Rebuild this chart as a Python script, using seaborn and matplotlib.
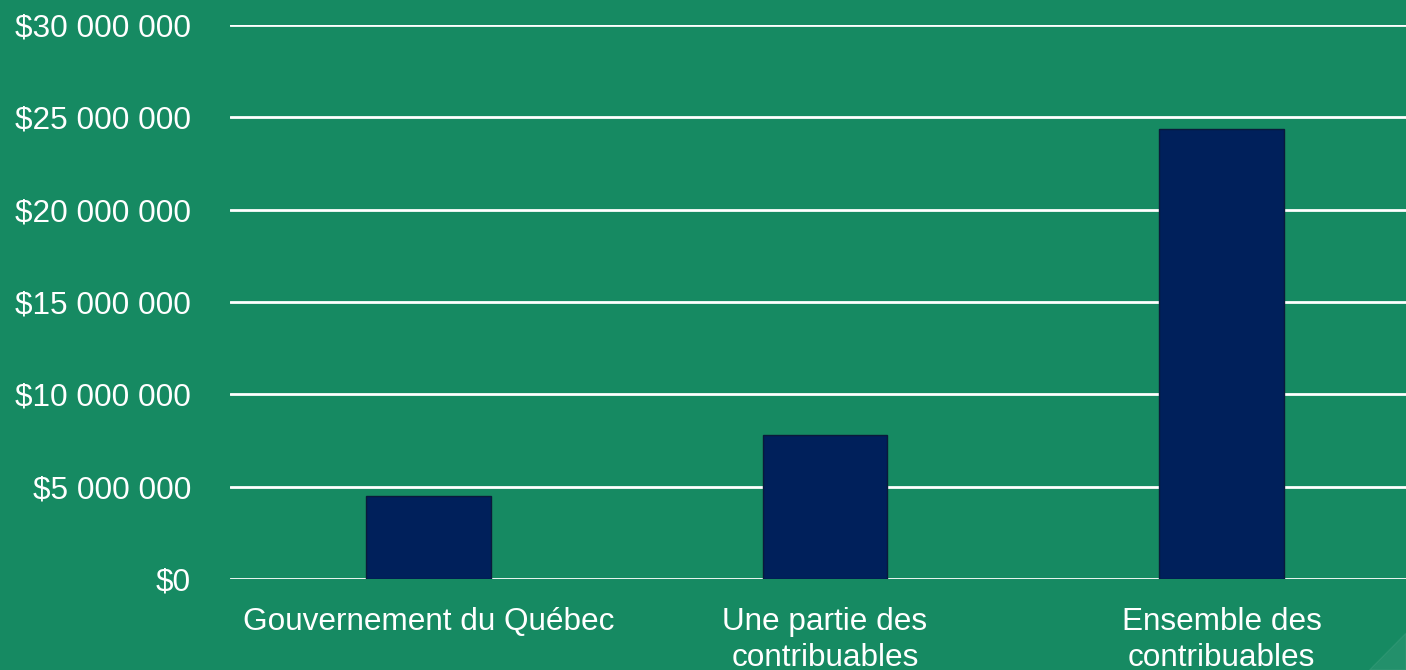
import matplotlib
matplotlib.use('Agg')
import matplotlib.pyplot as plt
import seaborn as sns
import pandas as pd
from matplotlib.ticker import FuncFormatter

categories = ["Gouvernement du Québec", "Une partie des\ncontribuables", "Ensemble des\ncontribuables"]
values = [4500000, 7800000, 24350000]
yticks = [0, 5000000, 10000000, 15000000, 20000000, 25000000, 30000000]

bg = "#168a62"
bar_color = "#00205b"

sns.set_style("white")
plt.rcParams['font.family'] = ['Liberation Sans', 'DejaVu Sans']

df = pd.DataFrame({"cat": categories, "val": values})

fig = plt.figure(figsize=(14.06, 6.7), dpi=100, facecolor=bg)
# axes reaches slightly past the right edge, as in the original
ax = fig.add_axes([230 / 1406, (670 - 579) / 670, 1190 / 1406, 554 / 670])
ax.set_facecolor(bg)

# faint lighter wedge in the bottom-right corner
fig.patches.append(plt.Polygon([[1.0, 0.0], [1.0, 0.055], [0.974, 0.0]],
                               closed=True, transform=fig.transFigure,
                               facecolor="white", alpha=0.06, zorder=0))

sns.barplot(data=df, x="cat", y="val", color=bar_color, width=0.315,
            edgecolor="#0a1a3a", linewidth=1, saturation=1, ax=ax, zorder=3)

ax.set_ylim(0, 30000000)
ax.set_xlim(-0.5, 2.5)
ax.set_yticks(yticks)
ax.yaxis.set_major_formatter(FuncFormatter(lambda v, p: "$" + f"{int(v):,}".replace(",", " ")))
ax.grid(axis="y", color="white", linewidth=2, zorder=1)
ax.set_axisbelow(True)
for s in ax.spines.values():
    s.set_visible(False)
ax.tick_params(axis="y", colors="white", labelsize=22.7, length=0, pad=28)
ax.tick_params(axis="x", colors="white", labelsize=22.7, length=0, pad=20)
for t in ax.get_xticklabels():
    t.set_linespacing(1.25)
ax.set_xlabel("")
ax.set_ylabel("")

fig.savefig("out.png", dpi=100, facecolor=bg)
